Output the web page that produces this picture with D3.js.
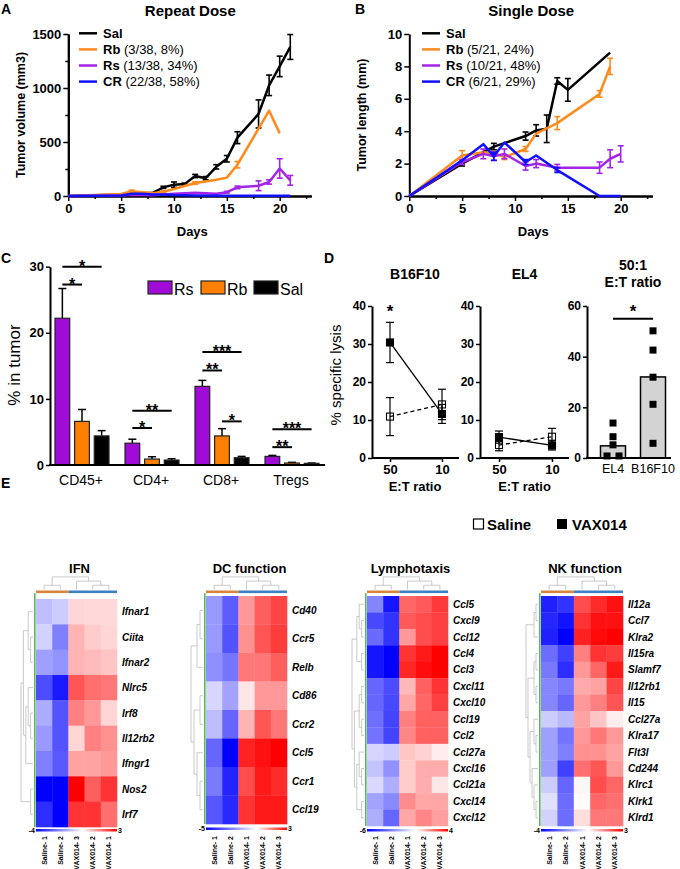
<!DOCTYPE html>
<html><head><meta charset="utf-8">
<script src="https://cdn.jsdelivr.net/npm/d3@7"></script>
<style>body{margin:0;background:#fff}svg{display:block}</style>
</head><body>
<svg id="c" width="680" height="869"></svg>
<script>
// ---------------- DATA ----------------
// Panel A: Repeat dose, tumor volume (mm3)
const seriesNames = ["Sal","Rb","Rs","CR"];
const legendA = ["", "(3/38, 8%)", "(13/38, 34%)", "(22/38, 58%)"];
const legendB = ["", "(5/21, 24%)", "(10/21, 48%)", "(6/21, 29%)"];
const daysSalA = [0,5,6,7,8,9,10,11,12,13,14,15,16,18,19,20,21];
const volSalA  = [0,15,35,25,30,80,105,110,185,165,270,345,540,760,1025,1200,1380];
const errSalA  = [0,0,0,0,0,10,25,10,15,15,20,30,55,130,95,95,115];
const daysRbA = [0,5,6,7,8,9,10,12,13,14,15,16,19,20];
const volRbA  = [0,18,45,35,25,40,65,120,135,150,170,290,790,580];
const errRbA  = [0,0,10,0,0,8,0,12,0,0,0,30,0,0];
const daysRsA = [0,5,6,7,8,9,10,11,12,13,14,15,16,18,19,20,21];
const volRsA  = [0,5,12,10,8,15,20,25,30,25,20,35,80,95,130,255,145];
const errRsA  = [0,0,0,0,0,0,0,0,0,0,0,8,12,45,20,90,45];
const daysCRA = [0,5,6,7,8,9,10,12,15,18,21];
const volCRA  = [0,5,20,20,15,15,10,5,3,3,3];
const errCRA  = [0,0,0,0,0,0,0,0,0,0,0];
// Panel B: Single dose, tumor length (mm)
const daysSalB = [0,5,8,11,12,13,14,15,19];
const lenSalB  = [0,2.0,3.05,3.7,4.05,4.15,7.1,6.55,8.85];
const errSalB  = [0,0.15,0.2,0.25,0.35,0.85,0.2,0.7,0];
const daysRbB = [0,5,7,8,9,11,12,14,18,19];
const lenRbB  = [0,2.5,2.7,2.65,2.4,2.9,3.85,4.5,6.3,8.0];
const errRbB  = [0,0.3,0,0.1,0.15,0.15,0,0.4,0.2,0.5];
const daysRsB = [0,5,7,8,9,11,12,14,18,19,20];
const lenRsB  = [0,2.1,2.6,2.45,2.6,1.85,2.0,1.75,1.75,2.3,2.6];
const errRsB  = [0,0.15,0.3,0.25,0.3,0.25,0.25,0.2,0.35,0.55,0.5];
const daysCRB = [0,5,7,8,9,11,12,14,18,20];
const lenCRB  = [0,2.2,3.2,2.45,3.3,2.1,2.5,1.6,0,0];
const errCRB  = [0,0,0,0.25,0,0.15,0,0.15,0,0];
// Panel C: % in tumor
const groupsC = ["CD45+","CD4+","CD8+","Tregs"];
const seriesC = ["Rs","Rb","Sal"];
const meanRsC = [22.2,3.3,11.9,1.3];  const errRsC = [4.5,0.6,0.9,0.15];
const meanRbC = [6.6,0.9,4.4,0.3];    const errRbC = [1.8,0.35,1.1,0.1];
const meanSalC = [4.4,0.75,1.1,0.25]; const errSalC = [0.8,0.2,0.2,0.05];
const sigGroupC = ["CD45+","CD45+","CD4+","CD4+","CD8+","CD8+","CD8+","Tregs","Tregs"];
const sigFromC  = ["Rs","Rs","Rs","Rs","Rs","Rs","Rb","Rs","Rs"];
const sigToC    = ["Sal","Rb","Sal","Rb","Sal","Rb","Sal","Sal","Rb"];
const sigYC     = [30,27.3,8.2,5.6,17.1,14.3,6.6,5.4,2.7];
const sigLabC   = ["*","*","**","*","***","**","*","***","**"];
// Panel D: % specific lysis
const ratios = ["50","10"];
const b16Vax = [30.4,11.6], b16VaxErr = [5.3,2.5];
const b16Sal = [10.9,14.1], b16SalErr = [5.0,4.0];
const el4Vax = [5.5,3.3],   el4VaxErr = [1.6,1.2];
const el4Sal = [3.4,5.6],   el4SalErr = [1.5,2.2];
const lysisCells = ["EL4","B16F10"];
const lysisMean = [4.8,32];
const lysisEL4 = [13.8,8.4,5.2,0.8,0.8];
const lysisB16 = [50.2,42.6,31.9,21.2,5.8];
// Panel E: heatmaps (z-scores)
const ifnRows = ["Ifnar1","Ciita","Ifnar2","Nlrc5","Irf8","Il12rb2","Ifngr1","Nos2","Irf7"];
const ifnCols = ["Saline- 1","Saline- 2","VAX014- 3","VAX014- 2","VAX014- 1"];
const ifnVals = [
 [-1.0,-0.8,0.5,0.45,0.45],[-0.7,-2.0,0.9,0.6,0.5],[-1.5,-1.7,0.9,0.8,0.7],
 [-2.8,-3.6,2.0,1.7,1.6],[-1.3,-2.7,1.5,1.2,0.5],[-1.6,-2.7,0.5,1.5,1.3],
 [-2.0,-2.6,1.1,1.1,1.2],[-4,-4,3,1.9,2.4],[-3.3,-4,2.4,2.4,1.7]];
const dcRows = ["Cd40","Ccr5","Relb","Cd86","Ccr2","Ccl5","Ccr1","Ccl19"];
const dcCols = ["Saline- 1","Saline- 2","VAX014- 1","VAX014- 2","VAX014- 3"];
const dcVals = [
 [-2.0,-3.2,1.2,1.9,2.2],[-2.0,-3.4,1.3,2.0,2.3],[-2.2,-2.7,1.6,1.6,1.9],
 [-0.8,-1.8,0.3,1.2,1.2],[-1.3,-3.0,0.9,2.0,1.6],[-3.0,-5,2.6,2.8,3.0],
 [-2.6,-4.3,2.1,2.7,2.5],[-3.3,-4.2,2.4,2.7,2.7]];
const lyRows = ["Ccl5","Cxcl9","Ccl12","Ccl4","Ccl3","Cxcl11","Cxcl10","Ccl19","Ccl2","Ccl27a","Cxcl16","Ccl21a","Cxcl14","Cxcl12"];
const lyCols = ["Saline- 1","Saline- 2","VAX014- 1","VAX014- 2","VAX014- 3"];
const lyVals = [
 [-2.9,-5.5,2.4,2.6,3.1],[-4.3,-4.8,2.6,2.8,3.0],[-3.5,-4.8,1.6,2.8,3.0],
 [-5.5,-6,3.2,3.6,4],[-5.5,-6,3.4,3.8,4],[-3.6,-4.2,1.1,2.5,3.2],
 [-3.6,-4.3,1.4,2.4,3.0],[-3.4,-4.4,2.0,2.5,2.5],[-3.3,-4.4,1.9,2.5,2.5],
 [-1.0,-1.2,0.9,0.7,0.3],[-1.4,-2.6,0.8,1.3,1.3],[-0.9,-1.9,0.8,1.3,0.4],
 [-2.2,-2.8,1.8,1.4,1.4],[-1.9,-3.6,1.4,1.9,1.5]];
const nkRows = ["Il12a","Ccl7","Klra2","Il15ra","Slamf7","Il12rb1","Il15","Ccl27a","Klra17","Flt3l","Cd244","Klrc1","Klrk1","Klrd1"];
const nkCols = ["Saline- 1","Saline- 2","VAX014- 1","VAX014- 2","VAX014- 3"];
const nkVals = [
 [-3.5,-3.2,2.1,2.5,2.8],[-3.4,-3.7,2.4,2.8,2.8],[-3.5,-4,2.6,2.9,3],
 [-2.3,-3.0,1.5,2.4,2.3],[-2.1,-3.3,1.2,1.8,2.7],[-1.9,-2.1,1.0,1.1,2.2],
 [-1.9,-2.4,1.2,1.5,2.0],[-0.8,-1.1,1.1,0.7,0.2],[-1.5,-2.2,1.2,1.6,1.2],
 [-1.5,-2.0,1.3,1.3,1.1],[-1.5,-3.0,1.7,2.0,1.2],[-0.8,-2.4,0.1,2.1,1.8],
 [-0.5,-2.3,0.05,1.8,1.7],[-0.7,-2.3,0.4,1.6,1.6]];
const colTree = [[0,1],[2,[3,4]]];
const ifnTree = [[[0,[1,2]],[[3,[4,5]],6]],[7,8]];
const dcTree = [[[0,1],2],[[3,4],[5,[6,7]]]];
const lyTree = [[[0,[1,2]],[3,4]],[[[5,6],[7,8]],[[9,[10,11]],[12,13]]]];
const nkTree = [[[0,1],2],[[[3,4],[5,6]],[[7,[8,9]],[10,[11,[12,13]]]]]];

// ---------------- DRAW ----------------
const F = '"Liberation Sans", Arial, Helvetica, sans-serif';
const svg = d3.select("#c").attr("font-family", F);
const colors = {Sal:"#000000", Rb:"#ff8a1c", Rs:"#a424e8", CR:"#1010ff"};
const barColors = {Rs:"#a10bd8", Rb:"#ff8000", Sal:"#000000"};
const fmt = d => String(d);

function T(x,y,s,o={}) {
  const t = svg.append("text").attr("x",x).attr("y",y).text(s)
    .attr("font-size",o.fs||13).attr("font-weight",o.fw||"bold")
    .attr("text-anchor",o.a||"start").attr("fill","#000");
  if (o.style) t.attr("font-style",o.style);
  if (o.rot!==undefined) t.attr("transform",`rotate(${o.rot},${x},${y})`);
  return t;
}
function styleAxis(g, fs, fw) {
  g.attr("font-family",F).attr("font-size",fs);
  g.selectAll("text").attr("font-size",fs).attr("font-weight",fw||"bold").attr("fill","#000");
  g.select(".domain").attr("stroke-width",2).attr("stroke","#000");
  g.selectAll(".tick line").attr("stroke-width",1.5).attr("stroke","#000");
}
// panel letters
T(1,14,"A",{fs:14}); T(355,14,"B",{fs:14}); T(1,263,"C",{fs:14}); T(324,263,"D",{fs:14}); T(1,488,"E",{fs:14});

function growthPanel(x0, title, yLabel, yMax, yTicks, yMinor, series, legendExtra, legX) {
  const x = d3.scaleLinear().domain([0,23]).range([x0, x0+23*10.57]);
  const y = d3.scaleLinear().domain([0,yMax]).range([196,34]);
  const ax = svg.append("g").attr("transform","translate(0,196)")
    .call(d3.axisBottom(x).tickValues([0,5,10,15,20]).tickFormat(fmt).tickSize(5).tickSizeOuter(0).tickPadding(3));
  styleAxis(ax,13);
  const axm = svg.append("g").attr("transform","translate(0,196)")
    .call(d3.axisBottom(x).tickValues([2.5,7.5,12.5,17.5,22.5]).tickSize(3).tickSizeOuter(0).tickFormat(""));
  styleAxis(axm,13);
  const ay = svg.append("g").attr("transform",`translate(${x0},0)`)
    .call(d3.axisLeft(y).tickValues(yTicks).tickFormat(fmt).tickSize(5).tickSizeOuter(0).tickPadding(2));
  styleAxis(ay,13);
  if (yMinor.length) {
    const aym = svg.append("g").attr("transform",`translate(${x0},0)`)
      .call(d3.axisLeft(y).tickValues(yMinor).tickSize(3).tickSizeOuter(0).tickFormat(""));
    styleAxis(aym,13);
  }
  T(x0+122,16,title,{fs:15,a:"middle"});
  T(x0+124,236,"Days",{fs:13,a:"middle"});
  T(x0-43,115,yLabel,{fs:12.5,a:"middle",rot:-90});
  const line = d3.line().x(d=>x(d[0])).y(d=>y(d[1]));
  series.forEach(s=>{
    const pts = s.days.map((d,i)=>[d,s.vals[i],s.err[i]]);
    const c = colors[s.name];
    svg.append("path").attr("d",line(pts)).attr("fill","none").attr("stroke",c)
      .attr("stroke-width",2.5).attr("stroke-linejoin","round");
    pts.filter(p=>p[2]>0).forEach(p=>{
      const g = svg.append("g").attr("stroke",c).attr("stroke-width",1.6);
      g.append("line").attr("x1",x(p[0])).attr("x2",x(p[0])).attr("y1",y(p[1]-p[2])).attr("y2",y(p[1]+p[2]));
      [p[1]-p[2],p[1]+p[2]].forEach(v=>g.append("line").attr("x1",x(p[0])-3).attr("x2",x(p[0])+3).attr("y1",y(v)).attr("y2",y(v)));
    });
  });
  seriesNames.forEach((n,i)=>{
    const yy = 33.3 + i*16.1;
    svg.append("line").attr("x1",legX).attr("x2",legX+18).attr("y1",yy).attr("y2",yy)
      .attr("stroke",colors[n]).attr("stroke-width",2.5);
    const t = T(legX+24, yy+4.5, "", {fs:13});
    t.append("tspan").attr("font-weight","bold").text(n);
    if (legendExtra[i]) t.append("tspan").attr("font-weight","normal").text(" "+legendExtra[i]);
  });
}
growthPanel(68.3,"Repeat Dose","Tumor volume (mm3)",1500,[0,500,1000,1500],[250,750,1250],[
  {name:"Sal",days:daysSalA,vals:volSalA,err:errSalA},
  {name:"Rb",days:daysRbA,vals:volRbA,err:errRbA},
  {name:"Rs",days:daysRsA,vals:volRsA,err:errRsA},
  {name:"CR",days:daysCRA,vals:volCRA,err:errCRA}], legendA, 79);
growthPanel(409.3,"Single Dose","Tumor length (mm)",10,[0,2,4,6,8,10],[],[
  {name:"Sal",days:daysSalB,vals:lenSalB,err:errSalB},
  {name:"Rb",days:daysRbB,vals:lenRbB,err:errRbB},
  {name:"Rs",days:daysRsB,vals:lenRsB,err:errRsB},
  {name:"CR",days:daysCRB,vals:lenCRB,err:errCRB}], legendB, 422);

// ---- Panel C ----
(function(){
  const x0 = d3.scaleBand().domain(groupsC).range([47,327]);
  const x1 = d3.scaleBand().domain(seriesC).range([8,62]).paddingInner(0.25);
  const y = d3.scaleLinear().domain([0,30]).range([465,266.7]);
  const means = {Rs:meanRsC,Rb:meanRbC,Sal:meanSalC};
  const errs = {Rs:errRsC,Rb:errRbC,Sal:errSalC};
  groupsC.forEach((g,gi)=>{
    seriesC.forEach(s=>{
      const bx = x0(g)+x1(s), bw = x1.bandwidth();
      const m = means[s][gi], e = errs[s][gi];
      svg.append("line").attr("x1",bx+bw/2).attr("x2",bx+bw/2).attr("y1",y(m)).attr("y2",y(m+e)).attr("stroke","#000").attr("stroke-width",1.5);
      svg.append("line").attr("x1",bx+bw/2-4).attr("x2",bx+bw/2+4).attr("y1",y(m+e)).attr("y2",y(m+e)).attr("stroke","#000").attr("stroke-width",1.5);
      svg.append("rect").attr("x",bx).attr("y",y(m)).attr("width",bw).attr("height",y(0)-y(m))
        .attr("fill",barColors[s]).attr("stroke","#222").attr("stroke-width",1.2);
    });
    T(x0(g)+x0.bandwidth()/2-1, 485, g, {fs:14, fw:"normal", a:"middle"});
  });
  const ay = svg.append("g").attr("transform","translate(50,0)")
    .call(d3.axisLeft(y).tickValues([0,10,20,30]).tickFormat(fmt).tickSize(4).tickSizeOuter(0).tickPadding(2));
  styleAxis(ay,13);
  svg.append("line").attr("x1",49).attr("x2",325).attr("y1",465).attr("y2",465).attr("stroke","#000").attr("stroke-width",2);
  T(20,365,"% in tumor",{fs:17,fw:"normal",a:"middle",rot:-90});
  sigGroupC.forEach((g,i)=>{
    const xa = x0(g)+x1(sigFromC[i])+x1.bandwidth()/2;
    const xb = x0(g)+x1(sigToC[i])+x1.bandwidth()/2;
    svg.append("line").attr("x1",xa).attr("x2",xb).attr("y1",y(sigYC[i])).attr("y2",y(sigYC[i])).attr("stroke","#000").attr("stroke-width",2);
    T((xa+xb)/2, y(sigYC[i])+5, sigLabC[i], {fs:16, a:"middle"});
  });
  seriesC.forEach((s,i)=>{
    const lx = 148 + i*53;
    svg.append("rect").attr("x",lx).attr("y",281).attr("width",24).attr("height",13)
      .attr("fill",barColors[s]).attr("stroke","#222").attr("stroke-width",1.2);
    T(lx+26, 294.5, s, {fs:16, fw:"normal"});
  });
})();

// ---- Panel D ----
(function(){
  const y40 = d3.scaleLinear().domain([0,40]).range([458,306]);
  function lysisPlot(ax0, xr, title, vax, vaxE, sal, salE, star) {
    const x = d3.scalePoint().domain(ratios).range(xr);
    const gx = svg.append("g").attr("transform","translate(0,458)")
      .call(d3.axisBottom(x).tickSize(4).tickSizeOuter(0).tickPadding(3));
    styleAxis(gx,13);
    svg.append("line").attr("x1",ax0).attr("x2",xr[1]+17).attr("y1",458).attr("y2",458).attr("stroke","#000").attr("stroke-width",2);
    const gy = svg.append("g").attr("transform",`translate(${ax0},0)`)
      .call(d3.axisLeft(y40).tickValues([0,10,20,30,40]).tickFormat(fmt).tickSize(4).tickSizeOuter(0).tickPadding(2));
    styleAxis(gy,12);
    T((xr[0]+xr[1])/2-1, 279, title, {fs:14, a:"middle"});
    T((xr[0]+xr[1])/2-1, 491, "E:T ratio", {fs:13, a:"middle"});
    const line = d3.line().x((d,i)=>x(ratios[i])).y(d=>y40(d));
    svg.append("path").attr("d",line(sal)).attr("fill","none").attr("stroke","#000").attr("stroke-width",1.3).attr("stroke-dasharray","4,3");
    svg.append("path").attr("d",line(vax)).attr("fill","none").attr("stroke","#000").attr("stroke-width",1.3);
    [[vax,vaxE,true],[sal,salE,false]].forEach(([v,e,filled])=>{
      v.forEach((m,i)=>{
        const cx = x(ratios[i]);
        const g = svg.append("g").attr("stroke","#000").attr("stroke-width",1.2);
        g.append("line").attr("x1",cx).attr("x2",cx).attr("y1",y40(m-e[i])).attr("y2",y40(m+e[i]));
        [m-e[i],m+e[i]].forEach(w=>g.append("line").attr("x1",cx-4).attr("x2",cx+4).attr("y1",y40(w)).attr("y2",y40(w)));
        svg.append("rect").attr("x",cx-3.5).attr("y",y40(m)-3.5).attr("width",7).attr("height",7)
          .attr("fill",filled?"#000":"none").attr("stroke","#000").attr("stroke-width",1.1);
      });
    });
    if (star) T(x(ratios[0]), y40(40)+11, "*", {fs:17, a:"middle"});
  }
  lysisPlot(372,[390,442],"B16F10",b16Vax,b16VaxErr,b16Sal,b16SalErr,true);
  lysisPlot(480,[499,552],"EL4",el4Vax,el4VaxErr,el4Sal,el4SalErr,false);
  // bar plot
  const y60 = d3.scaleLinear().domain([0,60]).range([458,306]);
  const xb = d3.scaleBand().domain(lysisCells).range([600.5,665.5]).paddingInner(0.375);
  lysisCells.forEach((c,i)=>{
    svg.append("rect").attr("x",xb(c)).attr("y",y60(lysisMean[i])).attr("width",xb.bandwidth()).attr("height",458-y60(lysisMean[i]))
      .attr("fill","#d3d3d3").attr("stroke","#000").attr("stroke-width",1.5);
    T(xb(c)+xb.bandwidth()/2, 473, c, {fs:12.5, fw:"normal", a:"middle"});
  });
  [lysisEL4, lysisB16].forEach((pts,ci)=>{
    const cx = xb(lysisCells[ci])+xb.bandwidth()/2;
    pts.forEach((v,i)=>{
      const dup = pts.filter(w=>w===v).length;
      const k = pts.slice(0,i).filter(w=>w===v).length;
      const off = dup>1 ? (k-(dup-1)/2)*12 : 0;
      svg.append("rect").attr("x",cx+off-3.5).attr("y",y60(v)-3.5).attr("width",7).attr("height",7).attr("fill","#000");
    });
  });
  const gy = svg.append("g").attr("transform","translate(587,0)")
    .call(d3.axisLeft(y60).tickValues([0,20,40,60]).tickFormat(fmt).tickSize(4).tickSizeOuter(0).tickPadding(2));
  styleAxis(gy,12);
  svg.append("line").attr("x1",586).attr("x2",671).attr("y1",458).attr("y2",458).attr("stroke","#000").attr("stroke-width",2);
  const xa = xb("EL4")+xb.bandwidth()/2, xbb = xb("B16F10")+xb.bandwidth()/2;
  svg.append("line").attr("x1",xa).attr("x2",xbb).attr("y1",y60(55)).attr("y2",y60(55)).attr("stroke","#000").attr("stroke-width",2);
  T((xa+xbb)/2, y60(55)-2, "*", {fs:17, a:"middle"});
  T(633, 270, "50:1", {fs:14, a:"middle"});
  T(633, 287, "E:T ratio", {fs:14, a:"middle"});
  T(341, 375, "% specific lysis", {fs:15, fw:"normal", a:"middle", rot:-90});
  // legend
  svg.append("rect").attr("x",473.5).attr("y",519).attr("width",10).attr("height",10).attr("fill","#fff").attr("stroke","#000").attr("stroke-width",1.2);
  T(487, 530, "Saline", {fs:15});
  svg.append("rect").attr("x",557).attr("y",519).attr("width",10).attr("height",10).attr("fill","#000");
  T(572, 530, "VAX014", {fs:15});
})();

// ---- Panel E ----
function heatmap(id, cfg) {
  const {x0,x1,y0,y1,rows,cols,vals,lo,hi,tree,title,bandY,cbY} = cfg;
  const xs = d3.scaleBand().domain(d3.range(cols.length)).range([x0,x1]);
  const ys = d3.scaleBand().domain(d3.range(rows.length)).range([y0,y1]);
  const col = d3.scaleLinear().domain([lo,0,hi]).range(["#0000ff","#ffffff","#ff0000"]).clamp(true);
  vals.forEach((r,ri)=>r.forEach((v,ci)=>{
    svg.append("rect").attr("x",xs(ci)).attr("y",ys(ri)).attr("width",xs.bandwidth()+0.3).attr("height",ys.bandwidth()+0.3).attr("fill",col(v));
  }));
  // group band
  svg.append("rect").attr("x",x0).attr("y",bandY).attr("width",xs(2)-x0).attr("height",2.6).attr("fill","#d6853a");
  svg.append("rect").attr("x",xs(2)).attr("y",bandY).attr("width",x1-xs(2)).attr("height",2.6).attr("fill","#3c7fc2");
  svg.append("rect").attr("x",x0-2).attr("y",bandY+2.6).attr("width",1.6).attr("height",y1-bandY-2.6).attr("fill","#5cb85c");
  // column dendrogram
  const dg = svg.append("g").attr("stroke","#bdbdbd").attr("stroke-width",0.8).attr("fill","none");
  function hgt(n){return Array.isArray(n)?1+Math.max(hgt(n[0]),hgt(n[1])):0;}
  function colNode(n){
    if(!Array.isArray(n)) return {p:xs(n)+xs.bandwidth()/2,h:0};
    const a=colNode(n[0]), b=colNode(n[1]); const h=hgt(n);
    const yy=v=>bandY-1-v*4.2;
    dg.append("path").attr("d",`M${a.p},${yy(a.h)}V${yy(h)}H${b.p}V${yy(b.h)}`);
    return {p:(a.p+b.p)/2,h};
  }
  colNode(colTree);
  const mh = hgt(tree);
  function rowNode(n){
    if(!Array.isArray(n)) return {p:ys(n)+ys.bandwidth()/2,h:0};
    const a=rowNode(n[0]), b=rowNode(n[1]); const h=hgt(n);
    const xx=v=>x0-3-v*(12/mh);
    dg.append("path").attr("d",`M${xx(a.h)},${a.p}H${xx(h)}V${b.p}H${xx(b.h)}`);
    return {p:(a.p+b.p)/2,h};
  }
  rowNode(tree);
  // labels
  rows.forEach((r,ri)=>T(x1+5, ys(ri)+ys.bandwidth()/2+3.5, r, {fs:10, style:"italic"}));
  T((x0+x1)/2+3, 573, title, {fs:13, a:"middle"});
  // colorbar
  const grad = svg.append("defs").append("linearGradient").attr("id",id);
  grad.append("stop").attr("offset","0%").attr("stop-color","#0000ff");
  grad.append("stop").attr("offset",(-lo/(hi-lo)*100)+"%").attr("stop-color","#ffffff");
  grad.append("stop").attr("offset","100%").attr("stop-color","#ff0000");
  svg.append("rect").attr("x",x0).attr("y",cbY).attr("width",x1-x0).attr("height",2.5).attr("fill",`url(#${id})`);
  T(x0-1, cbY+3.5, String(lo), {fs:7, a:"end"});
  T(x1+1, cbY+3.5, String(hi), {fs:7});
  cols.forEach((c,ci)=>{
    const cx = xs(ci)+xs.bandwidth()/2+2.5;
    T(cx, 836, c, {fs:7, a:"end", rot:-90});
  });
}
heatmap("g1",{x0:36,x1:117,y0:599,y1:827,rows:ifnRows,cols:ifnCols,vals:ifnVals,lo:-4,hi:3,tree:ifnTree,title:"IFN",bandY:590.5,cbY:829});
heatmap("g2",{x0:206,x1:287,y0:596,y1:824,rows:dcRows,cols:dcCols,vals:dcVals,lo:-5,hi:3,tree:dcTree,title:"DC function",bandY:590.5,cbY:827.5});
heatmap("g3",{x0:367,x1:448,y0:596,y1:826,rows:lyRows,cols:lyCols,vals:lyVals,lo:-6,hi:4,tree:lyTree,title:"Lymphotaxis",bandY:590.5,cbY:829});
heatmap("g4",{x0:541,x1:623,y0:596,y1:826,rows:nkRows,cols:nkCols,vals:nkVals,lo:-4,hi:3,tree:nkTree,title:"NK function",bandY:590.5,cbY:829});
</script>
</body></html>
